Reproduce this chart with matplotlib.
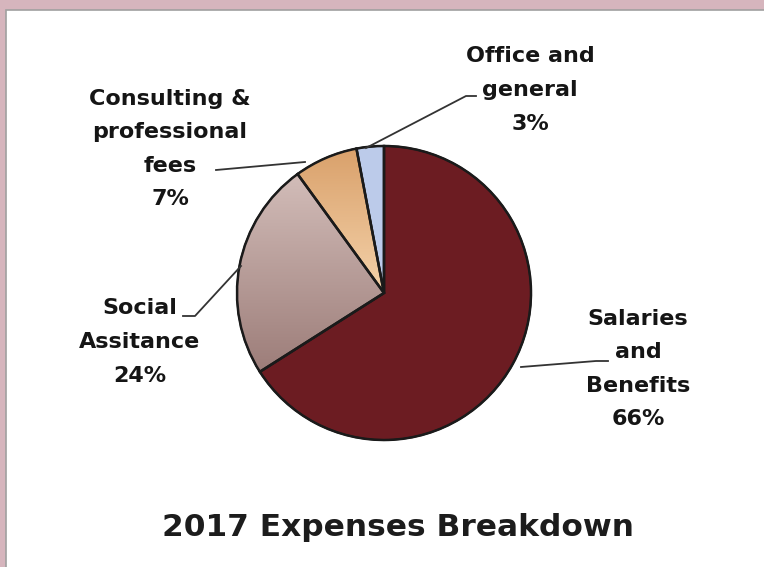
import matplotlib.pyplot as plt
import numpy as np
from matplotlib.patches import Rectangle, Wedge
from matplotlib.colors import LinearSegmentedColormap

# data
categories = ["Salaries\nand\nBenefits", "Social\nAssitance", "Consulting &\nprofessional\nfees", "Office and\ngeneral"]
shares = [66, 24, 7, 3]
colors = ["#6c1c22", "#bfa29e", "#ebbd8c", "#bccbea"]
title = "2017 Expenses Breakdown"

W, H = 764, 567
fig = plt.figure(figsize=(W / 100, H / 100), dpi=100)
fig.patch.set_facecolor("#d6b5bd")
ax = fig.add_axes([0, 0, 1, 1])

# scanned white card
ax.add_patch(Rectangle((6, -5), W, H - 10 + 5, facecolor="white", edgecolor="#a0a0a0", lw=1.2, zorder=0))

cx, cy, r = 384, H - 293, 147
wedges, _ = ax.pie(shares, colors=colors, startangle=90, counterclock=False,
                   center=(cx, cy), radius=r, frame=True,
                   wedgeprops=dict(edgecolor="#1a1a1a", linewidth=1.3))
ax.set_xlim(0, W)
ax.set_ylim(0, H)
ax.set_aspect("equal")
ax.axis("off")

# shading on the social slice
grad = np.linspace(0, 1, 256).reshape(-1, 1)
im = ax.imshow(grad, extent=(cx - r, cx, cy - r * 0.6, cy + r),
               cmap=LinearSegmentedColormap.from_list("s", ["#9a7a76", "#dac6c2"]),
               origin="lower", aspect="auto", zorder=1.5)
im.set_clip_path(wedges[1])
# shading on the consulting slice
im2 = ax.imshow(grad[::-1], extent=(cx - r * 0.6, cx, cy, cy + r),
                cmap=LinearSegmentedColormap.from_list("c", ["#d9a06a", "#f4d2aa"]),
                origin="lower", aspect="auto", zorder=1.5)
im2.set_clip_path(wedges[2])
for w in wedges:
    w.set_zorder(1)
    ax.add_patch(Wedge(w.center, w.r, w.theta1, w.theta2, facecolor="none",
                       edgecolor="#1a1a1a", lw=1.8, zorder=2))

font = dict(family="DejaVu Sans", weight="bold", size=16, color="#151515",
            ha="center", va="center", linespacing=1.85)
label_pos = [(638, 369), (140, 342), (170, 149), (530, 90)]
for name, s, (px, py) in zip(categories, shares, label_pos):
    ax.text(px, H - py, f"{name}\n{s}%", **font)

# leader lines (pixel coords from the reference)
leaders = [
    [(521, 367), (596, 361), (608, 361)],
    [(241, 266), (195, 316), (183, 316)],
    [(305, 162), (216, 170)],
    [(366, 148), (466, 96), (476, 96)],
]
for pts in leaders:
    xs = [p[0] for p in pts]
    ys = [H - p[1] for p in pts]
    ax.plot(xs, ys, color="#333333", lw=1.3, zorder=3)

ax.text(398, H - 528, title, family="DejaVu Sans", weight="bold", size=22.5,
        color="#1c1c1c", ha="center", va="center")

fig.savefig("out.png", dpi=100, facecolor=fig.get_facecolor())
